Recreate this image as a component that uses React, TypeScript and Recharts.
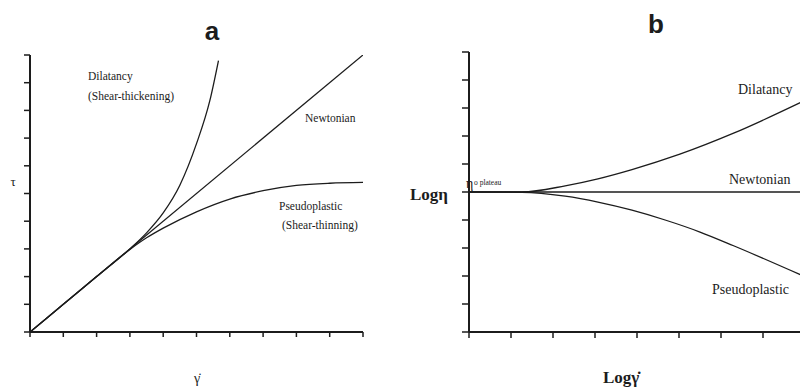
import React from 'react';
import { LineChart, Line, XAxis, YAxis } from 'recharts';

// Panel a: shear stress vs shear rate
const shearRateTicks = [0, 1, 2, 3, 4, 5, 6, 7, 8, 9, 10];
const stressTicks = [0, 1, 2, 3, 4, 5, 6, 7, 8, 9, 10];

const newtonianA = [
  { x: 0, y: 0 },
  { x: 10, y: 10 },
];
const dilatancyA = [
  { x: 0, y: 0 },
  { x: 1, y: 1 },
  { x: 2, y: 2 },
  { x: 3, y: 3 },
  { x: 3.5, y: 3.58 },
  { x: 4, y: 4.3 },
  { x: 4.5, y: 5.3 },
  { x: 5, y: 6.8 },
  { x: 5.4, y: 8.35 },
  { x: 5.66, y: 9.8 },
];
const pseudoplasticA = [
  { x: 0, y: 0 },
  { x: 1, y: 1 },
  { x: 2, y: 2 },
  { x: 3, y: 2.98 },
  { x: 3.5, y: 3.4 },
  { x: 4, y: 3.75 },
  { x: 5, y: 4.34 },
  { x: 6, y: 4.8 },
  { x: 7, y: 5.1 },
  { x: 8, y: 5.29 },
  { x: 9, y: 5.37 },
  { x: 10, y: 5.4 },
];

// Panel b: log viscosity vs log shear rate
const logRateTicks = [0, 1, 2, 3, 4, 5, 6, 7, 8];
const logViscTicks = [0, 1, 2, 3, 4, 5, 6, 7, 8, 9, 10];

const newtonianB = [
  { x: 0, y: 5 },
  { x: 8, y: 5 },
];
const dilatancyB = [
  { x: 0, y: 5 },
  { x: 1.26, y: 5.0 },
  { x: 2.29, y: 5.22 },
  { x: 3.07, y: 5.47 },
  { x: 3.88, y: 5.8 },
  { x: 5.02, y: 6.35 },
  { x: 6.3, y: 7.1 },
  { x: 7.9, y: 8.2 },
];
const pseudoplasticB = [
  { x: 0, y: 5 },
  { x: 1.26, y: 4.99 },
  { x: 2.29, y: 4.85 },
  { x: 3.07, y: 4.64 },
  { x: 3.88, y: 4.35 },
  { x: 4.67, y: 4.0 },
  { x: 5.5, y: 3.57 },
  { x: 6.3, y: 3.08 },
  { x: 7.9, y: 2.04 },
];

const ink = '#1c1c1c';
const serif = '"Liberation Serif", "DejaVu Serif", serif';
const sans = '"Liberation Sans", Arial, sans-serif';
const axisLine = { stroke: ink, strokeWidth: 2 };
const tickLine = { stroke: ink, strokeWidth: 1.5 };
const noLabel = () => '';

export default function App() {
  return (
    <div
      style={{
        position: 'absolute',
        left: 0,
        top: 0,
        width: 800,
        height: 392,
        overflow: 'hidden',
        background: '#fff',
      }}
    >
      <div style={{ position: 'absolute', left: 0, top: 0 }}>
        <LineChart width={400} height={392} margin={{ top: 55, right: 37, bottom: 0, left: 0 }}>
          <XAxis
            type="number"
            dataKey="x"
            domain={[0, 10]}
            ticks={shearRateTicks}
            tickFormatter={noLabel}
            tickSize={5}
            height={60}
            axisLine={axisLine}
            tickLine={tickLine}
            allowDataOverflow
          />
          <YAxis
            type="number"
            dataKey="y"
            domain={[0, 10]}
            ticks={stressTicks}
            tickFormatter={noLabel}
            tickSize={6}
            width={30}
            axisLine={axisLine}
            tickLine={tickLine}
            allowDataOverflow
          />
          <Line data={newtonianA} dataKey="y" type="linear" stroke={ink} strokeWidth={1.3} dot={false} isAnimationActive={false} />
          <Line data={dilatancyA} dataKey="y" type="monotone" stroke={ink} strokeWidth={1.3} dot={false} isAnimationActive={false} />
          <Line data={pseudoplasticA} dataKey="y" type="monotone" stroke={ink} strokeWidth={1.3} dot={false} isAnimationActive={false} />
        </LineChart>
      </div>

      <div style={{ position: 'absolute', left: 400, top: 0 }}>
        <LineChart width={420} height={392} margin={{ top: 52, right: 15, bottom: 0, left: 0 }}>
          <XAxis
            type="number"
            dataKey="x"
            domain={[0, 8]}
            ticks={logRateTicks}
            tickFormatter={noLabel}
            tickSize={6}
            height={60}
            axisLine={axisLine}
            tickLine={tickLine}
            allowDataOverflow
          />
          <YAxis
            type="number"
            dataKey="y"
            domain={[0, 10]}
            ticks={logViscTicks}
            tickFormatter={noLabel}
            tickSize={7}
            width={69}
            axisLine={axisLine}
            tickLine={tickLine}
            allowDataOverflow
          />
          <Line data={newtonianB} dataKey="y" type="linear" stroke={ink} strokeWidth={1.4} dot={false} isAnimationActive={false} />
          <Line data={dilatancyB} dataKey="y" type="monotone" stroke={ink} strokeWidth={1.3} dot={false} isAnimationActive={false} />
          <Line data={pseudoplasticB} dataKey="y" type="monotone" stroke={ink} strokeWidth={1.3} dot={false} isAnimationActive={false} />
        </LineChart>
      </div>

      {/* titles, axis names and curve labels */}
      <svg width={800} height={392} style={{ position: 'absolute', left: 0, top: 0, pointerEvents: 'none' }}>
        <g fill={ink}>
          <text x={212} y={40} textAnchor="middle" fontFamily={sans} fontWeight="bold" fontSize={26}>a</text>
          <text x={656} y={33} textAnchor="middle" fontFamily={sans} fontWeight="bold" fontSize={26}>b</text>

          <text x={13} y={186} textAnchor="middle" fontFamily={serif} fontSize={13}>τ</text>
          <text x={197} y={383} textAnchor="middle" fontFamily={serif} fontSize={14}>γ̇</text>

          <g fontFamily={serif} fontSize={11.5}>
            <text x={88} y={80}>Dilatancy</text>
            <text x={88} y={100}>(Shear-thickening)</text>
            <text x={305} y={122}>Newtonian</text>
            <text x={279} y={210}>Pseudoplastic</text>
            <text x={282} y={229}>(Shear-thinning)</text>
          </g>

          <text x={410} y={200} fontFamily={serif} fontWeight="bold" fontSize={17}>Logη</text>
          <text x={603} y={383} fontFamily={serif} fontWeight="bold" fontSize={17}>Logγ̇</text>

          <text x={466} y={188} fontFamily={serif} fontSize={14}>η</text>
          <text x={474} y={185} fontFamily={serif} fontSize={7.5}>o plateau</text>

          <g fontFamily={serif} fontSize={14}>
            <text x={738} y={94}>Dilatancy</text>
            <text x={729} y={184}>Newtonian</text>
            <text x={712} y={294}>Pseudoplastic</text>
          </g>
        </g>
      </svg>
    </div>
  );
}
